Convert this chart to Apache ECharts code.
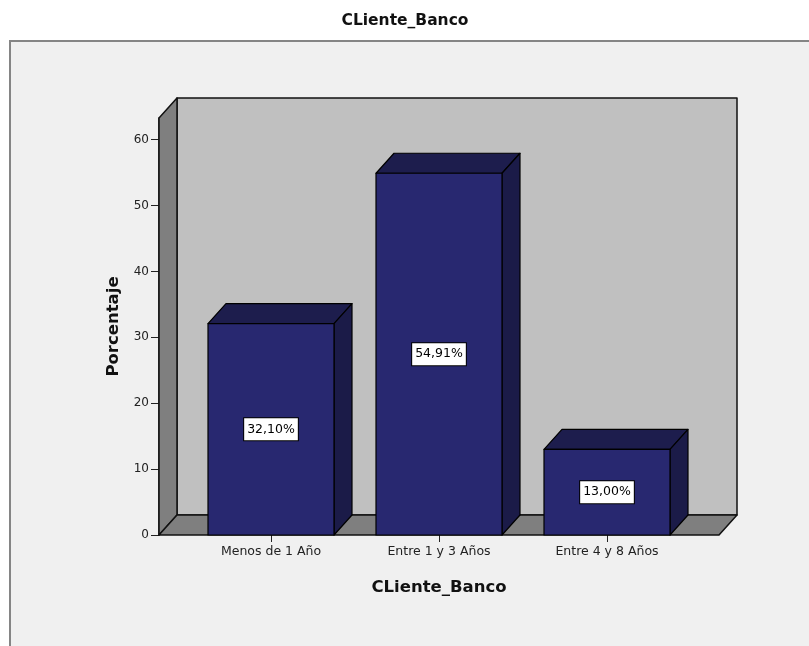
<!DOCTYPE html>
<html>
<head>
<meta charset="utf-8">
<style>
  html, body { margin: 0; padding: 0; background: #ffffff; }
  #chart { width: 809px; height: 646px; }
</style>
<script src="https://cdn.jsdelivr.net/npm/echarts@6/dist/echarts.min.js"></script>
</head>
<body>
<div id="chart"></div>
<script>
// Categories and percentages shown on the bars
const categories = ['Menos de 1 Año', 'Entre 1 y 3 Años', 'Entre 4 y 8 Años'];
const percents = [32.10, 54.91, 13.00];
const yTicks = [0, 10, 20, 30, 40, 50, 60];
const yMax = 63.3;

// 3D look: depth offset of the box and the bars
const DX = 18, DY = 20;
const FONT = '"DejaVu Sans", "Liberation Sans", Arial, sans-serif';

function fmtPct(v) {
  return v.toFixed(2).replace('.', ',') + '%';
}

const chart = echarts.init(document.getElementById('chart'), null, { renderer: 'canvas' });

// The floor, back wall and left wall of the 3D box
function renderRoom(params, api) {
  const cs = params.coordSys;
  const pad = cs.width / categories.length / 6;
  const xL = cs.x - pad;
  const xR = cs.x + cs.width + pad;
  const y0 = api.coord([0, 0])[1];
  const yT = api.coord([0, yMax])[1];
  const edge = { stroke: '#111', lineWidth: 1.5, lineJoin: 'round' };
  return {
    type: 'group',
    children: [
      { type: 'rect', shape: { x: xL + DX, y: yT - DY, width: xR - xL, height: y0 - yT },
        style: Object.assign({ fill: '#c0c0c0' }, edge) },
      { type: 'polygon', shape: { points: [[xL, y0], [xL + DX, y0 - DY], [xL + DX, yT - DY], [xL, yT]] },
        style: Object.assign({ fill: '#7f7f7f' }, edge) },
      { type: 'polygon', shape: { points: [[xL, y0], [xR, y0], [xR + DX, y0 - DY], [xL + DX, y0 - DY]] },
        style: Object.assign({ fill: '#7f7f7f' }, edge) }
    ]
  };
}

// One 3D bar: front face, top face, right face and the value label
function renderBar(params, api) {
  const idx = api.value(0);
  const val = api.value(1);
  const top = api.coord([idx, val]);
  const base = api.coord([idx, 0]);
  const bw = api.size([1, 0])[0] * 0.75;
  const l = top[0] - bw / 2, r = top[0] + bw / 2;
  const yt = top[1], yb = base[1];
  const edge = { stroke: '#000', lineWidth: 1.2, lineJoin: 'round' };
  return {
    type: 'group',
    children: [
      { type: 'polygon', shape: { points: [[l, yt], [l + DX, yt - DY], [r + DX, yt - DY], [r, yt]] },
        style: Object.assign({ fill: '#1d1d4d' }, edge) },
      { type: 'polygon', shape: { points: [[r, yt], [r + DX, yt - DY], [r + DX, yb - DY], [r, yb]] },
        style: Object.assign({ fill: '#1b1b48' }, edge) },
      { type: 'rect', shape: { x: l, y: yt, width: bw, height: yb - yt },
        style: Object.assign({ fill: '#282870' }, edge) },
      { type: 'text', x: top[0], y: (yt + yb) / 2,
        style: {
          text: fmtPct(val), fill: '#000', font: '12.5px ' + FONT,
          align: 'center', verticalAlign: 'middle',
          backgroundColor: '#ffffff', borderColor: '#000', borderWidth: 1,
          padding: [5, 3, 4, 3]
        } }
    ]
  };
}

chart.setOption({
  backgroundColor: '#ffffff',
  animation: false,
  title: {
    text: 'CLiente_Banco',
    left: 400, top: 8, textAlign: 'center',
    textStyle: { fontFamily: FONT, fontSize: 15.5, fontWeight: 'bold', color: '#111' }
  },
  graphic: {
    elements: [
      { type: 'rect', z: -10, shape: { x: 10, y: 41, width: 830, height: 640 },
        style: { fill: '#f0f0f0', stroke: '#858585', lineWidth: 2 } }
    ]
  },
  grid: { left: 187, width: 504, top: 118, bottom: 111, containLabel: false },
  xAxis: {
    type: 'category',
    data: categories,
    name: 'CLiente_Banco',
    nameLocation: 'middle',
    nameGap: 44,
    nameTextStyle: { fontFamily: FONT, fontSize: 16.5, fontWeight: 'bold', color: '#111' },
    axisLine: { show: false },
    axisTick: { show: true, alignWithLabel: true, length: 7, lineStyle: { color: '#222', width: 1 } },
    axisLabel: { fontFamily: FONT, fontSize: 12.5, color: '#222', margin: 10 },
    splitLine: { show: false }
  },
  yAxis: {
    type: 'value',
    min: 0,
    max: yMax,
    offset: 28,
    name: 'Porcentaje',
    nameLocation: 'middle',
    nameGap: 37,
    nameRotate: 90,
    nameTextStyle: { fontFamily: FONT, fontSize: 16.5, fontWeight: 'bold', color: '#111' },
    axisLine: { show: true, lineStyle: { color: '#111', width: 1.5 } },
    axisTick: { show: true, length: 8, customValues: yTicks, lineStyle: { color: '#222', width: 1 } },
    axisLabel: { fontFamily: FONT, fontSize: 12, color: '#222', margin: 10, customValues: yTicks },
    splitLine: { show: false }
  },
  series: [
    {
      type: 'custom',
      z: 1,
      renderItem: renderRoom,
      data: [[0, 0]],
      silent: true
    },
    {
      type: 'custom',
      z: 3,
      renderItem: renderBar,
      encode: { x: 0, y: 1 },
      data: percents.map((v, i) => [i, v])
    }
  ]
});
</script>
</body>
</html>
